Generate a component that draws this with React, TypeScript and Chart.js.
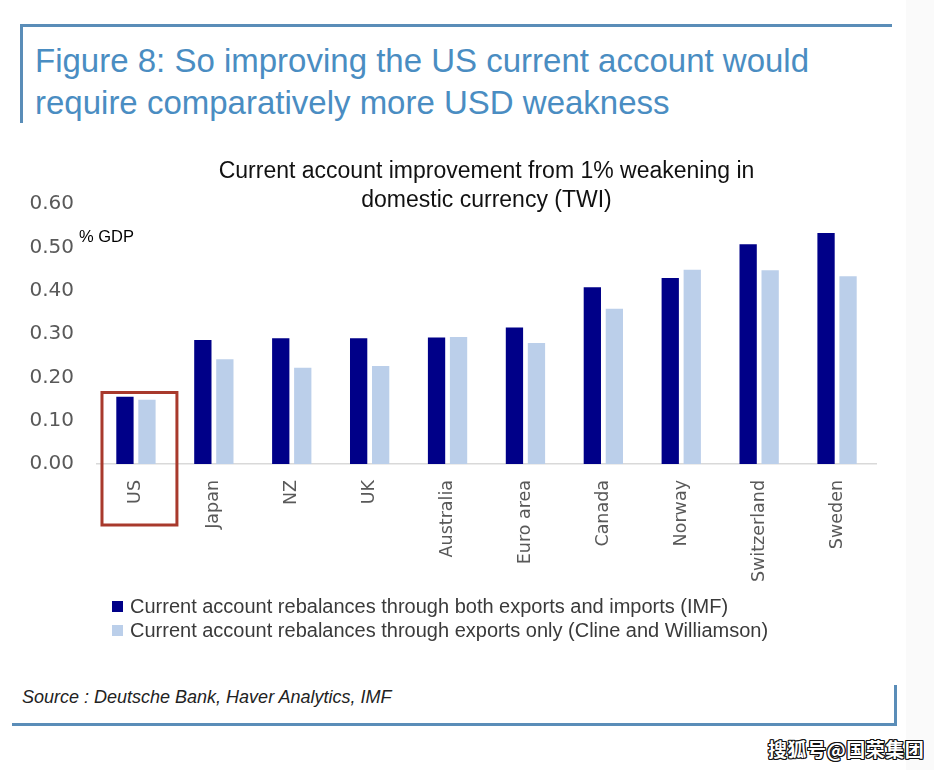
import React, { useEffect, useRef } from 'react';
import { Chart, registerables } from 'chart.js';

Chart.register(...registerables);

const categories = ['US', 'Japan', 'NZ', 'UK', 'Australia', 'Euro area', 'Canada', 'Norway', 'Switzerland', 'Sweden'];
const imfValues = [0.155, 0.286, 0.29, 0.29, 0.292, 0.315, 0.408, 0.429, 0.507, 0.533];
const clineValues = [0.148, 0.242, 0.222, 0.226, 0.293, 0.279, 0.358, 0.448, 0.447, 0.433];
const seriesLabels = [
  'Current account rebalances through both exports and imports (IMF)',
  'Current account rebalances through exports only (Cline and Williamson)',
];
const seriesColors = ['#000088', '#BBCFEA'];
const yMin = 0;
const yMax = 0.6;
const yStep = 0.1;
const chartTitleLines = ['Current account improvement from 1% weakening in', 'domestic currency (TWI)'];
const unitLabel = '% GDP';
const highlightCategory = 'US';
const figureTitleLines = ['Figure 8: So improving the US current account would', 'require comparatively more USD weakness'];
const sourceText = 'Source : Deutsche Bank, Haver Analytics, IMF';
const watermarkText = '搜狐号@国荣集团';

const FRAME = '#5A8DB8';

const overlayPlugin = {
  id: 'overlay',
  afterDraw(chart: any) {
    const { ctx, chartArea, scales } = chart;
    const xs = scales.x;
    const ys = scales.y;
    ctx.save();
    // chart title
    ctx.font = '23px "Liberation Sans", Arial, sans-serif';
    ctx.fillStyle = '#111111';
    ctx.textAlign = 'center';
    ctx.textBaseline = 'middle';
    const cx = (chartArea.left + chartArea.right) / 2;
    chartTitleLines.forEach((t, i) => ctx.fillText(t, cx, chartArea.top - 32 + i * 29));
    // unit label
    ctx.font = '16.5px "Liberation Sans", Arial, sans-serif';
    ctx.textAlign = 'left';
    ctx.fillStyle = '#000000';
    ctx.fillText(unitLabel, chartArea.left - 18, ys.getPixelForValue(0.522));
    // highlight box
    const idx = categories.indexOf(highlightCategory);
    const px = xs.getPixelForValue(idx);
    const w = (chartArea.right - chartArea.left) / categories.length;
    const top = ys.getPixelForValue(0.165);
    const bottom = chartArea.bottom + 61;
    ctx.strokeStyle = '#A8392C';
    ctx.lineWidth = 3;
    ctx.strokeRect(px - 0.436 * w, top, 0.962 * w, bottom - top);
    ctx.restore();
  },
};

export default function App() {
  const canvasRef = useRef<HTMLCanvasElement | null>(null);

  useEffect(() => {
    const canvas = canvasRef.current;
    if (!canvas) return;
    const chart = new Chart(canvas, {
      type: 'bar',
      data: {
        labels: categories,
        datasets: [
          {
            label: seriesLabels[0],
            data: imfValues,
            backgroundColor: seriesColors[0],
            categoryPercentage: 0.565,
            barPercentage: 0.786,
          },
          {
            label: seriesLabels[1],
            data: clineValues,
            backgroundColor: seriesColors[1],
            categoryPercentage: 0.565,
            barPercentage: 0.786,
          },
        ],
      },
      options: {
        responsive: false,
        animation: false,
        devicePixelRatio: 1,
        layout: { padding: { left: 0, right: 58, top: 64, bottom: 0 } },
        plugins: {
          legend: { display: false },
          title: { display: false },
          tooltip: { enabled: false },
        },
        scales: {
          x: {
            grid: { display: false, drawTicks: false },
            border: { display: true, color: '#D9D9D9', width: 1.5 },
            ticks: {
              autoSkip: false,
              minRotation: 90,
              maxRotation: 90,
              padding: 16,
              color: '#595959',
              font: { family: '"DejaVu Sans", sans-serif', size: 17.5 },
            },
            afterFit: (s: any) => {
              s.height = 136;
            },
          },
          y: {
            min: yMin,
            max: yMax,
            grid: { display: false, drawTicks: false },
            border: { display: false },
            ticks: {
              stepSize: yStep,
              padding: 23,
              color: '#595959',
              font: { family: '"DejaVu Sans", sans-serif', size: 20 },
              callback: (v: any) => Number(v).toFixed(2),
            },
            afterFit: (s: any) => {
              s.width = 97;
            },
          },
        },
      },
      plugins: [overlayPlugin],
    });
    return () => chart.destroy();
  }, []);

  const abs = (o: React.CSSProperties): React.CSSProperties => ({ position: 'absolute', ...o });

  return (
    <div style={abs({ left: 0, top: 0, width: 934, height: 770, background: '#ffffff', overflow: 'hidden' })}>
      <div style={abs({ left: 906, top: 0, width: 28, height: 770, background: '#FAFAFA' })} />
      <div style={abs({ left: 20, top: 24, width: 872, height: 3, background: FRAME })} />
      <div style={abs({ left: 20, top: 24, width: 3, height: 99, background: FRAME })} />
      <div
        style={abs({
          left: 35,
          top: 40,
          fontFamily: '"Liberation Sans", Arial, sans-serif',
          fontSize: 33,
          lineHeight: '42px',
          color: '#4A8DC2',
          whiteSpace: 'nowrap',
        })}
      >
        {figureTitleLines.map((t, i) => (
          <div key={i}>{t}</div>
        ))}
      </div>
      <canvas ref={canvasRef} width={934} height={460} style={abs({ left: 0, top: 140, width: 934, height: 460 })} />
      {seriesLabels.map((label, i) => (
        <div key={i} style={abs({ left: 112, top: 594 + i * 24, height: 24, display: 'flex', alignItems: 'center', whiteSpace: 'nowrap' })}>
          <span style={{ display: 'inline-block', width: 11, height: 11, background: seriesColors[i], marginRight: 7 }} />
          <span style={{ fontFamily: '"Liberation Sans", Arial, sans-serif', fontSize: 20, color: '#3A3A3A' }}>{label}</span>
        </div>
      ))}
      <div
        style={abs({
          left: 22,
          top: 686,
          fontFamily: '"Liberation Sans", Arial, sans-serif',
          fontStyle: 'italic',
          fontSize: 18,
          lineHeight: '22px',
          color: '#222222',
          whiteSpace: 'nowrap',
        })}
      >
        {sourceText}
      </div>
      <div style={abs({ left: 12, top: 723, width: 885, height: 3, background: FRAME })} />
      <div style={abs({ left: 894, top: 685, width: 3, height: 41, background: FRAME })} />
      <div
        style={abs({
          left: 768,
          top: 737,
          fontFamily: '"Noto Sans CJK SC", sans-serif',
          fontWeight: 700,
          fontSize: 19,
          lineHeight: '24px',
          letterSpacing: '0.5px',
          color: '#ffffff',
          whiteSpace: 'nowrap',
          textShadow: '1px 1px 0 #111, -1px -1px 0 #111, 1px -1px 0 #111, -1px 1px 0 #111, 0 1px 0 #111, 0 -1px 0 #111, 1px 0 0 #111, -1px 0 0 #111',
        })}
      >
        {watermarkText}
      </div>
    </div>
  );
}
